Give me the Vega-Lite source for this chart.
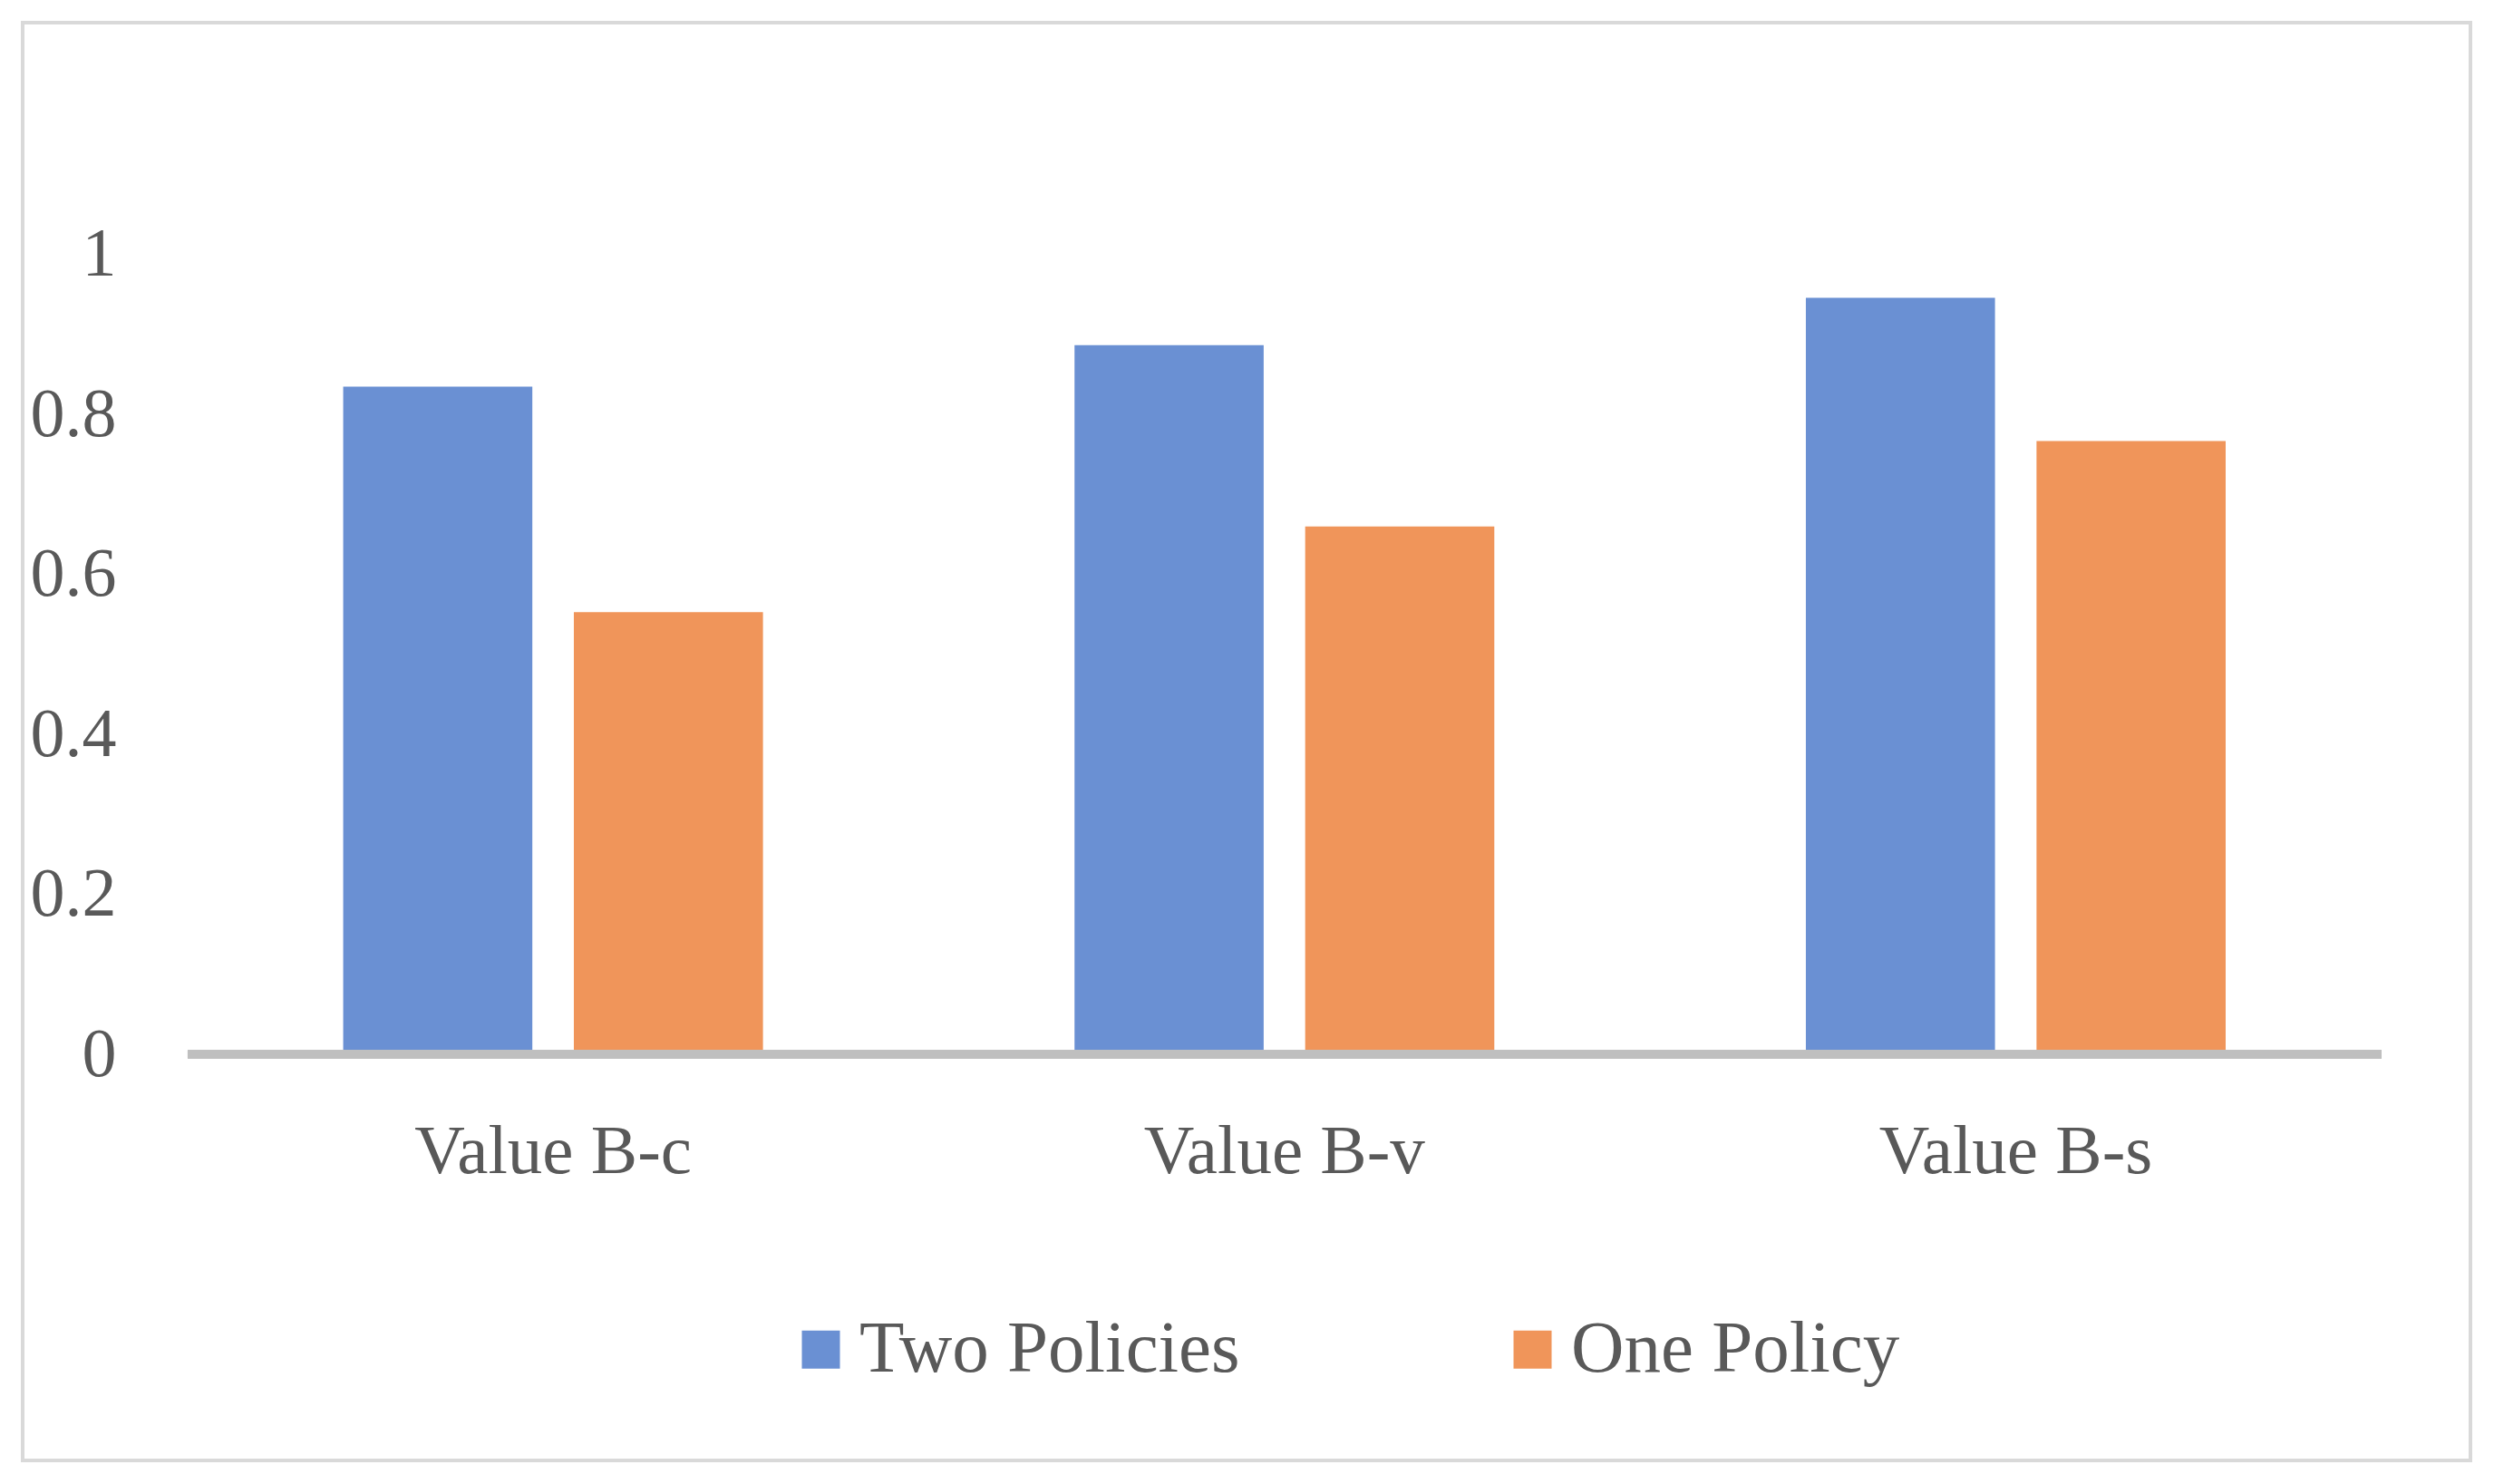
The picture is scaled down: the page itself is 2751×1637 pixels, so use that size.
{
  "$schema": "https://vega.github.io/schema/vega-lite/v6.json",
  "autosize": {"type": "none"},
  "width": 2700,
  "height": 1586,
  "padding": {"left": 25, "top": 25, "right": 26, "bottom": 26},
  "background": "white",
  "config": {
    "font": "Liberation Serif",
    "view": {"stroke": "#d9d9d9", "strokeWidth": 4}
  },
  "data": {
    "values": [
      {"category": "Value B-c", "policy": "Two Policies", "value": 0.835},
      {"category": "Value B-c", "policy": "One Policy", "value": 0.553},
      {"category": "Value B-v", "policy": "Two Policies", "value": 0.887},
      {"category": "Value B-v", "policy": "One Policy", "value": 0.66},
      {"category": "Value B-s", "policy": "Two Policies", "value": 0.946},
      {"category": "Value B-s", "policy": "One Policy", "value": 0.767}
    ]
  },
  "resolve": {"scale": {"x": "independent"}},
  "layer": [
    {
      "mark": {"type": "bar"},
      "encoding": {
        "x": {
          "field": "category",
          "type": "nominal",
          "sort": ["Value B-c", "Value B-v", "Value B-s"],
          "scale": {"paddingInner": 0.426, "paddingOuter": 0.3865, "align": 0.567},
          "axis": {
            "orient": "bottom",
            "offset": -448,
            "title": null,
            "domain": false,
            "ticks": false,
            "grid": false,
            "labelAngle": 0,
            "labelPadding": 107,
            "labelBaseline": "middle",
            "labelFontSize": 77,
            "labelColor": "#595959",
            "labelFont": "Liberation Serif",
            "labelLimit": 2000
          }
        },
        "xOffset": {
          "field": "policy",
          "type": "nominal",
          "sort": ["Two Policies", "One Policy"],
          "scale": {"paddingInner": 0.18, "paddingOuter": 0}
        },
        "y": {
          "field": "value",
          "type": "quantitative",
          "stack": null,
          "scale": {"domain": [-0.5079, 1.2902], "nice": false, "zero": false},
          "axis": {
            "orient": "left",
            "values": [0, 0.2, 0.4, 0.6, 0.8, 1],
            "format": "~g",
            "offset": -103,
            "labelPadding": 0,
            "title": null,
            "domain": false,
            "ticks": false,
            "grid": false,
            "labelAlign": "right",
            "labelBaseline": "middle",
            "labelFontSize": 76,
            "labelColor": "#595959",
            "labelFont": "Liberation Serif"
          }
        },
        "y2": {"datum": 0},
        "color": {
          "field": "policy",
          "type": "nominal",
          "sort": ["Two Policies", "One Policy"],
          "scale": {"domain": ["Two Policies", "One Policy"], "range": ["#6a90d3", "#f0955a"]},
          "legend": {
            "orient": "none",
            "legendX": 840,
            "legendY": 1423,
            "direction": "horizontal",
            "title": null,
            "padding": 0,
            "symbolType": "square",
            "symbolSize": 1764,
            "symbolStrokeWidth": 0,
            "symbolOpacity": 1,
            "labelOffset": 2,
            "columnPadding": 282,
            "labelFontSize": 81,
            "labelColor": "#595959",
            "labelFont": "Liberation Serif",
            "labelLimit": 1000
          }
        }
      }
    },
    {
      "mark": {"type": "rule", "color": "#bfbfbf", "strokeWidth": 9},
      "encoding": {
        "x": {"datum": 0, "type": "quantitative", "scale": {"domain": [-0.0752, 1.0405], "nice": false, "zero": false}, "axis": null},
        "x2": {"datum": 1},
        "y": {"datum": 0, "type": "quantitative"}
      }
    }
  ]
}
